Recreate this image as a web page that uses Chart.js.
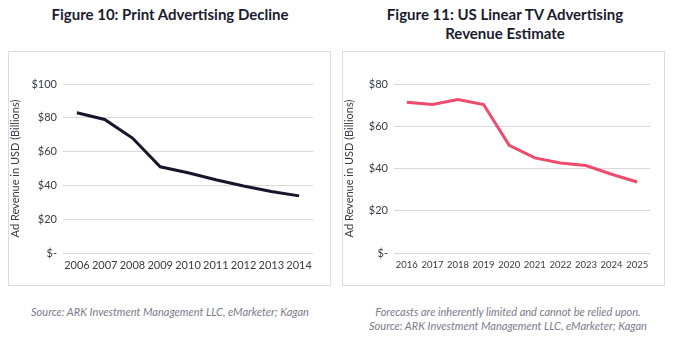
<!DOCTYPE html>
<html>
<head>
<meta charset="utf-8">
<script src="https://cdn.jsdelivr.net/npm/chart.js@4.4.1/dist/chart.umd.min.js"></script>
<style>
  body { margin: 0; background: #fff; width: 677px; height: 339px; position: relative; overflow: hidden; font-family: Lato, sans-serif; }
  .title { position: absolute; text-align: center; font-weight: bold; font-size: 15px; line-height: 19px; color: #1b1b30; }
  .box { position: absolute; top: 51px; width: 321px; height: 233px; border: 1px solid #dcdcdc; }
  .box canvas { display: block; }
  .note { position: absolute; text-align: center; font-style: italic; font-size: 11px; line-height: 14px; color: #7b7b8c; }
</style>
</head>
<body>
<div class="title" style="left:0; width:340px; top:5px;">Figure 10: Print Advertising Decline</div>
<div class="title" style="left:340px; width:330px; top:5px;">Figure 11: US Linear TV Advertising<br>Revenue Estimate</div>
<div class="box" style="left:8px;"><canvas id="printChart" width="321" height="233"></canvas></div>
<div class="box" style="left:342px;"><canvas id="tvChart" width="321" height="233"></canvas></div>
<div class="note" style="left:0; width:340px; top:305px;">Source: ARK Investment Management LLC, eMarketer; Kagan</div>
<div class="note" style="left:343px; width:330px; top:305px;">Forecasts are inherently limited and cannot be relied upon.<br>Source: ARK Investment Management LLC, eMarketer; Kagan</div>
<script>
const printYears = ["2006", "2007", "2008", "2009", "2010", "2011", "2012", "2013", "2014"];
const printRevenue = [83, 79, 68, 51, 47.5, 43.3, 39.6, 36.4, 33.8];

const tvYears = ["2016", "2017", "2018", "2019", "2020", "2021", "2022", "2023", "2024", "2025"];
const tvRevenue = [71.4, 70.3, 72.6, 70.3, 51, 45, 42.6, 41.4, 37.3, 33.6];

function makeChart(id, labels, data, color, yMax, yWidth, rightPad, xSize) {
  var ctx = document.getElementById(id).getContext("2d");
  return new Chart(ctx, {
    type: "line",
    data: {
      labels: labels,
      datasets: [
        {
          data: data,
          borderColor: color,
          borderWidth: 3,
          pointRadius: 0,
          tension: 0,
          fill: false,
        },
      ],
    },
    options: {
      responsive: false,
      animation: false,
      layout: { padding: { top: 32, right: rightPad, left: 0, bottom: 0 } },
      plugins: { legend: { display: false }, tooltip: { enabled: false } },
      scales: {
        x: {
          offset: true,
          grid: { display: false, drawTicks: false },
          border: { display: false },
          ticks: {
            color: "#3a3a48",
            padding: 6,
            maxRotation: 0,
            autoSkip: false,
            font: { size: xSize, family: "Lato" },
          },
          afterFit: function (scale) {
            scale.height = 32;
          },
        },
        y: {
          min: 0,
          max: yMax,
          grid: { color: "#d9d9d9", drawTicks: false, lineWidth: 1 },
          border: { display: false },
          ticks: {
            stepSize: 20,
            color: "#3a3a48",
            padding: 6,
            font: { size: 11, family: "Lato" },
            callback: function (v) {
              return v === 0 ? "$-" : "$" + v;
            },
          },
          title: {
            display: true,
            text: "Ad Revenue in USD (Billions)",
            color: "#3a3a48",
            padding: { top: 0, bottom: 0 },
            font: { size: 11, family: "Lato" },
          },
          afterFit: function (scale) {
            scale.width = yWidth;
          },
        },
      },
    },
  });
}

makeChart("printChart", printYears, printRevenue, "#15152c", 100, 54, 17, 11);
makeChart("tvChart", tvYears, tvRevenue, "#ef4b6c", 80, 51, 14, 9.5);
</script>
</body>
</html>
